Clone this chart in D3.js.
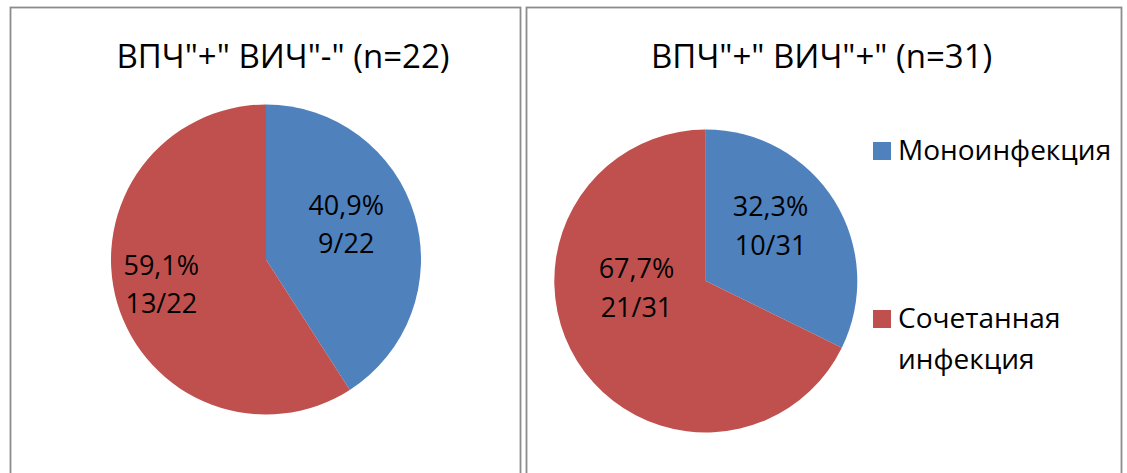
<!DOCTYPE html>
<html>
<head>
<meta charset="utf-8">
<script src="https://cdn.jsdelivr.net/npm/d3@7"></script>
<style>
  html, body { margin: 0; padding: 0; background: #fff; }
  svg { display: block; }
  text { font-family: "Open Sans", "Noto Sans", "DejaVu Sans", sans-serif; fill: #000; }
</style>
</head>
<body>
<svg id="chart" width="1127" height="473"></svg>
<script>
// Infection structure among HPV-positive patients, split by HIV status
const categories = ["Моноинфекция", "Сочетанная инфекция"];
const chartTitles = ['ВПЧ"+" ВИЧ"-" (n=22)', 'ВПЧ"+" ВИЧ"+" (n=31)'];
const groupTotals = [22, 31];
const monoCounts = [9, 10];
const combinedCounts = [13, 21];

const colors = ["#4F81BD", "#C0504D"];

const svg = d3.select("#chart");
svg.append("rect").attr("width", 1127).attr("height", 473).attr("fill", "#fff");

// Layout of the two chart frames
const panels = [
  { x0: 10.5, x1: 520.5, cx: 266, cy: 259.5, r: 155, titleX: 283,
    nudges: [[-9, -9], [-15.5, -1]] },
  { x0: 526.5, x1: 1121.5, cx: 705.8, cy: 281, r: 151.5, titleX: 821.7,
    nudges: [[-12.4, -6.7], [7.8, -40.8]] }
];

const pct = d3.format(".1f");
const pie = d3.pie().sort(null).value(d => d.value);

panels.forEach((p, i) => {
  const g = svg.append("g");

  // frame (open at the bottom edge of the picture)
  g.append("rect")
    .attr("x", p.x0).attr("y", 7.5)
    .attr("width", p.x1 - p.x0).attr("height", 520)
    .attr("fill", "none")
    .attr("stroke", "#8c8c8c")
    .attr("stroke-width", 1.8);

  g.append("text")
    .attr("x", p.titleX).attr("y", 67.8)
    .attr("text-anchor", "middle")
    .style("font-size", "33px")
    .text(chartTitles[i]);

  const values = [
    { cat: 0, value: monoCounts[i] },
    { cat: 1, value: combinedCounts[i] }
  ];
  const arcs = pie(values);
  const arc = d3.arc().innerRadius(0).outerRadius(p.r);
  const labelArc = d3.arc().innerRadius(0).outerRadius(p.r * 1.2); // centroid at 0.6r

  const pg = g.append("g").attr("transform", `translate(${p.cx},${p.cy})`);
  pg.selectAll("path.slice").data(arcs).enter().append("path")
    .attr("class", "slice")
    .attr("d", arc)
    .attr("fill", d => colors[d.data.cat]);

  arcs.forEach((a, k) => {
    const c = labelArc.centroid(a);
    const lx = c[0] + p.nudges[k][0];
    const ly = c[1] + p.nudges[k][1];
    const share = pct(a.data.value / groupTotals[i] * 100).replace(".", ",") + "%";
    const t = pg.append("text")
      .attr("text-anchor", "middle")
      .style("font-size", "27px");
    t.append("tspan").attr("x", lx).attr("y", ly - 9.8).text(share);
    t.append("tspan").attr("x", lx).attr("y", ly + 28.6)
      .text(`${a.data.value}/${groupTotals[i]}`);
  });
});

// Legend in the right-hand frame
const legendRows = [
  { y: 142, base: 159.5 },
  { y: 310, base: 328.3 }
];
const legend = svg.append("g");
categories.forEach((name, k) => {
  const row = legendRows[k];
  legend.append("rect")
    .attr("x", 873).attr("y", row.y)
    .attr("width", 18).attr("height", 18)
    .attr("fill", colors[k]);
  const words = name.split(" ");
  const t = legend.append("text").style("font-size", "28px");
  words.forEach((w, j) => {
    t.append("tspan").attr("x", 898).attr("y", row.base + j * 40.7).text(w);
  });
});
</script>
</body>
</html>
